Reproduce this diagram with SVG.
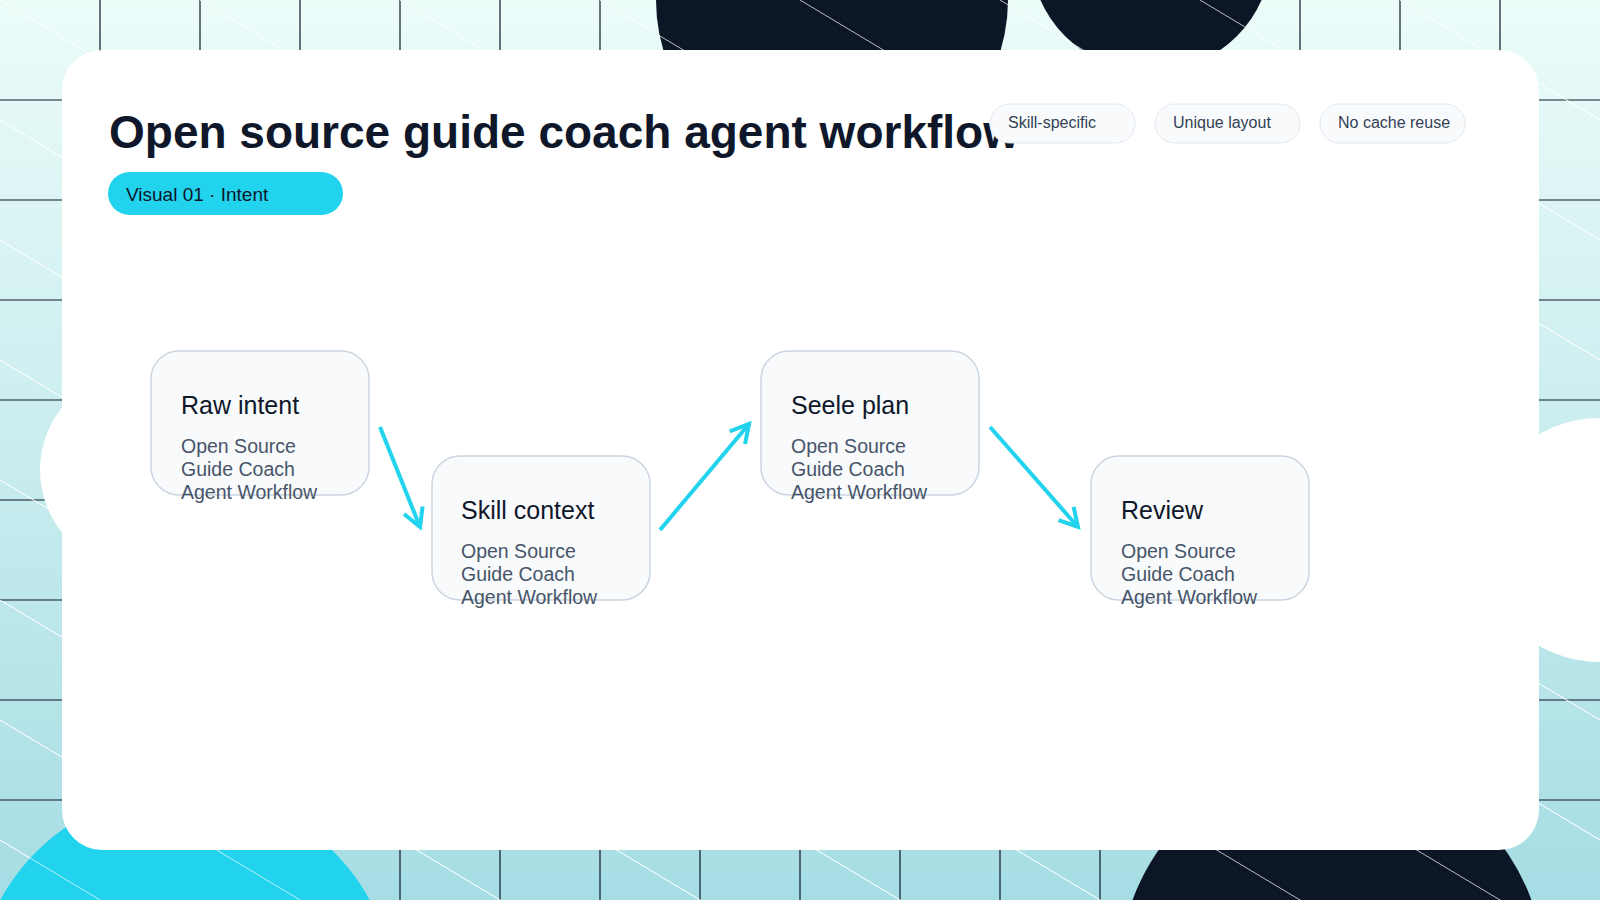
<svg xmlns="http://www.w3.org/2000/svg" width="1600" height="900" viewBox="0 0 1600 900">
<defs>
<linearGradient id="bg" x1="0" y1="0" x2="0" y2="1"><stop offset="0" stop-color="#ecfcf9"/><stop offset="1" stop-color="#a6dde4"/></linearGradient>
<marker id="ah" viewBox="0 0 12 12" refX="10" refY="6" markerWidth="6" markerHeight="6" orient="auto" markerUnits="strokeWidth"><path d="M1,1 L10,6 L1,11" fill="none" stroke="#22d3ee" stroke-width="2"/></marker>
<pattern id="diag" width="200" height="120" patternUnits="userSpaceOnUse"><path d="M0,0 L200,120" stroke="#ffffff" stroke-opacity="0.7" stroke-width="1"/></pattern>
</defs>
<style>
.grid{stroke:#0f172a;stroke-width:1.2}
.node rect{fill:#f8fafc;stroke:#cbd5e1;stroke-width:1.5}
.t{font-family:"Liberation Sans",Arial,sans-serif;font-size:25px;fill:#0f172a}
.s{font-family:"Liberation Sans",Arial,sans-serif;font-size:19.5px;fill:#475569}
.chip rect{fill:#f8fafc;stroke:#e2e8f0;stroke-width:1}
.chip text{font-family:"Liberation Sans",Arial,sans-serif;font-size:16px;fill:#334155}
.conn line{stroke:#22d3ee;stroke-width:4;marker-end:url(#ah)}
</style>
<rect width="1600" height="900" fill="url(#bg)"/>
<g class="grid">
<path d="M100,0V900M200,0V900M300,0V900M400,0V900M500,0V900M600,0V900M700,0V900M800,0V900M900,0V900M1000,0V900M1100,0V900M1200,0V900M1300,0V900M1400,0V900M1500,0V900M0,100H1600M0,200H1600M0,300H1600M0,400H1600M0,500H1600M0,600H1600M0,700H1600M0,800H1600"/>
</g>
<rect width="1600" height="900" fill="url(#diag)"/>
<circle cx="832" cy="0" r="176" fill="#0d1626"/>
<circle cx="1151" cy="-49" r="121" fill="#0d1626"/>
<circle cx="185" cy="1000" r="210" fill="#22d3ee"/>
<circle cx="1332" cy="972" r="212" fill="#0d1626"/>
<circle cx="140" cy="470" r="100" fill="#ffffff"/>
<circle cx="1600" cy="540" r="122" fill="#ffffff"/>
<rect width="1600" height="900" fill="url(#diag)"/>
<rect x="62" y="50" width="1477" height="800" rx="40" fill="#ffffff"/>
<text x="109" y="148" font-family="Liberation Sans,Arial,sans-serif" font-size="46" font-weight="bold" fill="#0f172a">Open source guide coach agent workflow</text>
<g id="badge"><rect x="108" y="172" width="235" height="43" rx="21.5" fill="#22d3ee"/><text x="126" y="201" font-family="Liberation Sans,Arial,sans-serif" font-size="19" fill="#0f172a">Visual 01 · Intent</text></g>
<g id="chip1" class="chip"><rect x="990" y="104" width="145" height="39" rx="19.5"/><text x="1008" y="128">Skill-specific</text></g>
<g id="chip2" class="chip"><rect x="1155" y="104" width="145" height="39" rx="19.5"/><text x="1173" y="128">Unique layout</text></g>
<g id="chip3" class="chip"><rect x="1320" y="104" width="145" height="39" rx="19.5"/><text x="1338" y="128">No cache reuse</text></g>
<g class="conn">
<line x1="380" y1="427" x2="420" y2="527"/>
<line x1="660" y1="530" x2="749" y2="424"/>
<line x1="990" y1="427" x2="1078" y2="527"/>
</g>
<g id="n1" class="node"><rect x="151" y="351" width="218" height="144" rx="28"/><text class="t" x="181" y="414">Raw intent</text><text class="s" x="181" y="453">Open Source</text><text class="s" x="181" y="476">Guide Coach</text><text class="s" x="181" y="499">Agent Workflow</text></g>
<g id="n2" class="node"><rect x="432" y="456" width="218" height="144" rx="28"/><text class="t" x="461" y="519">Skill context</text><text class="s" x="461" y="558">Open Source</text><text class="s" x="461" y="581">Guide Coach</text><text class="s" x="461" y="604">Agent Workflow</text></g>
<g id="n3" class="node"><rect x="761" y="351" width="218" height="144" rx="28"/><text class="t" x="791" y="414">Seele plan</text><text class="s" x="791" y="453">Open Source</text><text class="s" x="791" y="476">Guide Coach</text><text class="s" x="791" y="499">Agent Workflow</text></g>
<g id="n4" class="node"><rect x="1091" y="456" width="218" height="144" rx="28"/><text class="t" x="1121" y="519">Review</text><text class="s" x="1121" y="558">Open Source</text><text class="s" x="1121" y="581">Guide Coach</text><text class="s" x="1121" y="604">Agent Workflow</text></g>
</svg>
